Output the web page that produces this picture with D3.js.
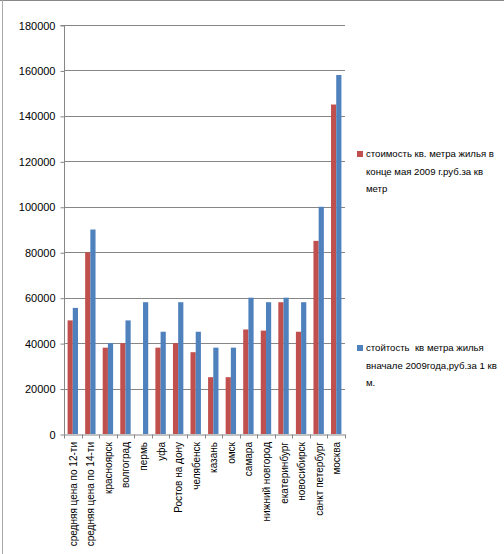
<!DOCTYPE html>
<html><head><meta charset="utf-8">
<script src="https://cdn.jsdelivr.net/npm/d3@7"></script>
<style>body{margin:0;background:#fff}svg{display:block}text{font-family:"Liberation Sans",Arial,sans-serif;fill:#000;white-space:pre}</style>
</head><body>
<script>
const categories = ["средняя цена по 12-ти","средняя цена по 14-ти","красноярск","волгоград","пермь","уфа","Ростов на дону","челябенск","казань","омск","самара","нижний новгород","екатеринбург","новосибирск","санкт петербург","москва"];
const seriesMay = [50000,80000,38000,40000,0,38000,40000,36000,25000,25000,46000,45500,58000,45000,85000,145000];
const seriesStart = [55500,90000,40000,50000,58000,45000,58000,45000,38000,38000,60000,58000,60000,58000,100000,158000];
const yTicks = [0,20000,40000,60000,80000,100000,120000,140000,160000,180000];
const legendMay = ["стоимость кв. метра жилья в","конце мая 2009 г.руб.за кв","метр"];
const legendStart = ["стойтость  кв метра жилья","вначале 2009года,руб.за 1 кв","м."];
const colors = ["#C0504D","#4F81BD"];

const W=504,H=554;
const svg=d3.select("body").append("svg").attr("width",W).attr("height",H);
svg.append("line").attr("x1",0).attr("x2",W).attr("y1",0.5).attr("y2",0.5).attr("stroke","#888");
svg.append("line").attr("x1",2.5).attr("x2",2.5).attr("y1",0).attr("y2",H).attr("stroke","#aaa");

const x0=64,x1=345,yTop=25,yBot=434;
const x=d3.scaleBand().domain(categories).range([x0,x1]).paddingInner(0).paddingOuter(0);
const y=d3.scaleLinear().domain([0,180000]).range([yBot,yTop]);

// gridlines
svg.append("g").selectAll("line").data(yTicks.filter(d=>d>0)).join("line")
 .attr("x1",x0).attr("x2",x1).attr("y1",d=>Math.round(y(d))+0.5).attr("y2",d=>Math.round(y(d))+0.5)
 .attr("stroke","#868686");

// y axis
const ya=svg.append("g").attr("transform",`translate(${x0+0.5},0.5)`)
 .call(d3.axisLeft(y).tickValues(yTicks).tickFormat(d=>String(d)).tickSize(4).tickPadding(5));
ya.select(".domain").attr("stroke","#868686").attr("d",`M-4,${yTop}H0V${yBot}`);
ya.selectAll(".tick line").attr("stroke","#868686");
ya.selectAll("text").style("font-size","11px").attr("fill","#222");

// bars
const bw=5.2;
const g=svg.append("g");
g.selectAll(".r").data(categories).join("rect").attr("class","r")
 .attr("x",(d)=>x(d)+x.bandwidth()/2-bw).attr("width",bw)
 .attr("y",(d,i)=>y(seriesMay[i])).attr("height",(d,i)=>y(0)-y(seriesMay[i])).attr("fill",colors[0]);
g.selectAll(".b").data(categories).join("rect").attr("class","b")
 .attr("x",(d)=>x(d)+x.bandwidth()/2).attr("width",bw)
 .attr("y",(d,i)=>y(seriesStart[i])).attr("height",(d,i)=>y(0)-y(seriesStart[i])).attr("fill",colors[1]);

// x axis
const xa=svg.append("g").attr("transform",`translate(0,${yBot+0.5})`)
 .call(d3.axisBottom(x).tickSize(0).tickFormat(""));
xa.select(".domain").attr("stroke","#868686");
xa.selectAll(".tk").data(d3.range(categories.length+1)).join("line").attr("class","tk")
 .attr("x1",i=>Math.round(x0+i*x.step())+0.5).attr("x2",i=>Math.round(x0+i*x.step())+0.5)
 .attr("y1",0).attr("y2",4).attr("stroke","#868686");
svg.append("g").selectAll("text").data(categories).join("text")
 .attr("transform",d=>`translate(${x(d)+x.bandwidth()/2+4},${yBot+8}) rotate(-90)`)
 .attr("text-anchor","end").style("font-size","10px").attr("fill","#222").text(d=>d);

// legend
function legend(lines,color,ty){
  svg.append("rect").attr("x",357).attr("y",ty-6).attr("width",6).attr("height",6).attr("fill",color);
  svg.append("g").selectAll("text").data(lines).join("text")
   .attr("x",366).attr("y",(d,i)=>ty+i*17.5).style("font-size","9.6px").attr("fill","#222").text(d=>d);
}
legend(legendMay,colors[0],157);
legend(legendStart,colors[1],351);
</script>
</body></html>
